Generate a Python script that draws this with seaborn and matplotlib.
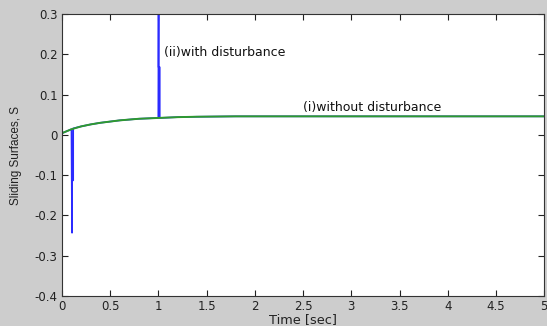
import numpy as np
import pandas as pd
import matplotlib
matplotlib.use("Agg")
import matplotlib.pyplot as plt
import seaborn as sns

# Green: without disturbance
t_nodist = [0.0, 0.1, 0.2, 0.3, 0.4, 0.5, 0.6, 0.7, 0.8, 0.9, 1.0, 1.2, 1.4, 1.6, 1.8, 2.0, 2.5, 3.0, 3.5, 4.0, 4.5, 5.0]
s_nodist = [0.004, 0.014, 0.021, 0.026, 0.030, 0.033, 0.036, 0.038, 0.040, 0.041, 0.042, 0.044, 0.045, 0.0455, 0.046, 0.046, 0.046, 0.046, 0.046, 0.046, 0.046, 0.046]

# Blue: with disturbance (spikes at ~0.1 s and ~1 s)
t_dist = [0.0, 0.1, 0.106, 0.106, 0.118, 0.118, 0.2, 0.3, 0.4, 0.5, 0.6, 0.7, 0.8, 0.9, 1.0, 1.003, 1.003, 1.015, 1.015, 1.2, 1.4, 1.6, 1.8, 2.0, 2.5, 3.0, 3.5, 4.0, 4.5, 5.0]
s_dist = [0.004, 0.014, -0.243, -0.113, -0.113, 0.016, 0.021, 0.026, 0.030, 0.033, 0.036, 0.038, 0.040, 0.041, 0.042, 0.32, 0.168, 0.168, 0.042, 0.044, 0.045, 0.0455, 0.046, 0.046, 0.046, 0.046, 0.046, 0.046, 0.046, 0.046]

x_ticks = [0, 0.5, 1, 1.5, 2, 2.5, 3, 3.5, 4, 4.5, 5]
y_ticks = [-0.4, -0.3, -0.2, -0.1, 0, 0.1, 0.2, 0.3]

sns.set_style("ticks")
plt.rcParams['font.family'] = ['DejaVu Sans']

fig = plt.figure(figsize=(5.47, 3.26), dpi=100)
fig.patch.set_facecolor('#cdcdcd')
ax = fig.add_axes([0.113, 0.092, 0.882, 0.865])
ax.set_facecolor('white')

df_d = pd.DataFrame({'t': t_dist, 's': s_dist})
df_n = pd.DataFrame({'t': t_nodist, 's': s_nodist})
sns.lineplot(data=df_d, x='t', y='s', ax=ax, color='#2b2bff', lw=1.2, sort=False, estimator=None)
sns.lineplot(data=df_n, x='t', y='s', ax=ax, color='#2e9a2e', lw=1.4, sort=False, estimator=None)

ax.set_xlim(0, 5)
ax.set_ylim(-0.4, 0.3)
ax.set_xticks(x_ticks)
ax.set_xticklabels([f"{v:g}" for v in x_ticks])
ax.set_yticks(y_ticks)
ax.set_yticklabels([f"{v:g}" for v in y_ticks])
ax.tick_params(direction='in', length=4, width=0.8, top=True, right=True,
               labelsize=8.5, colors='#222222', pad=3)
for sp in ax.spines.values():
    sp.set_visible(True)
    sp.set_color('#333333')
    sp.set_linewidth(0.8)

ax.set_xlabel('Time [sec]', fontsize=9.3, labelpad=0, color='#222222')
ax.set_ylabel('Sliding Surfaces, S', fontsize=8.5, labelpad=9, color='#222222',
              family=['Liberation Sans', 'DejaVu Sans'])

ax.text(1.06, 0.205, '(ii)with disturbance', fontsize=9, color='#111111', va='center')
ax.text(2.5, 0.068, '(i)without disturbance', fontsize=9, color='#111111', va='center')

fig.savefig('out.png', dpi=100, facecolor=fig.get_facecolor())
